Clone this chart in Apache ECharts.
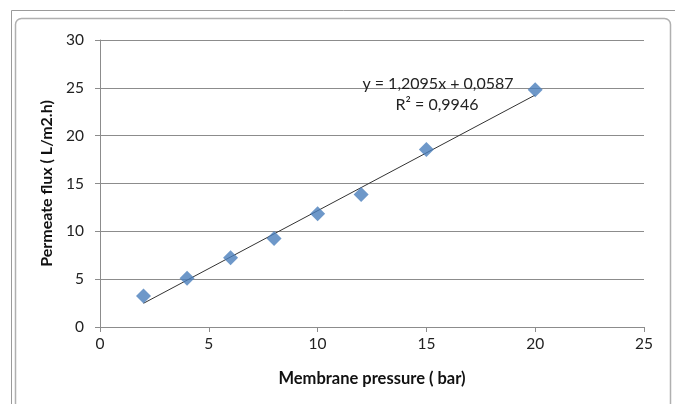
<!DOCTYPE html>
<html>
<head>
<meta charset="utf-8">
<script src="https://cdn.jsdelivr.net/npm/echarts@6/dist/echarts.min.js"></script>
<style>
html,body{margin:0;padding:0;background:#fff;}
#c{width:675px;height:404px;}
</style>
</head>
<body>
<div id="c"></div>
<script>
const pressure = [2, 4, 6, 8, 10, 12, 15, 20];
const flux = [3.25, 5.1, 7.25, 9.25, 11.85, 13.85, 18.55, 24.8];
const trendSlope = 1.2095;
const trendIntercept = 0.0587;
const trendRange = [2, 20];
const trendLabel = ['y = 1,2095x + 0,0587', 'R² = 0,9946'];
const xTitle = 'Membrane pressure ( bar)';
const yTitle = 'Permeate flux ( L/m2.h)';

const chart = echarts.init(document.getElementById('c'), null, {renderer: 'canvas'});
const FONT = 'Lato, "Open Sans", sans-serif';
const trendData = trendRange.map(x => [x, trendSlope * x + trendIntercept]);

chart.setOption({
  animation: false,
  backgroundColor: '#fff',
  grid: {left: 100, right: 31, top: 40, bottom: 77},
  xAxis: {
    type: 'value', min: 0, max: 25, interval: 5,
    name: xTitle, nameLocation: 'middle', nameGap: 43,
    nameTextStyle: {fontFamily: FONT, fontSize: 16.5, fontWeight: 'bold', color: '#111'},
    axisLine: {show: true, lineStyle: {color: '#8c8c8c', width: 1}},
    axisTick: {show: true, length: 5, lineStyle: {color: '#8c8c8c'}},
    axisLabel: {fontFamily: FONT, fontSize: 15.5, color: '#222', margin: 9},
    splitLine: {show: false}
  },
  yAxis: {
    type: 'value', min: 0, max: 30, interval: 5,
    name: yTitle, nameLocation: 'middle', nameGap: 43, nameRotate: 90,
    nameTextStyle: {fontFamily: FONT, fontSize: 16, fontWeight: 'bold', color: '#111'},
    axisLine: {show: true, lineStyle: {color: '#8c8c8c', width: 1}},
    axisTick: {show: true, length: 5, lineStyle: {color: '#8c8c8c'}},
    axisLabel: {fontFamily: FONT, fontSize: 15.5, color: '#222', margin: 16},
    splitLine: {show: true, lineStyle: {color: '#8c8c8c', width: 1}}
  },
  series: [
    {
      type: 'line', data: trendData, showSymbol: false, symbol: 'none',
      lineStyle: {color: '#333', width: 1}, silent: true, z: 3
    },
    {
      type: 'scatter', data: pressure.map((x, i) => [x, flux[i]]),
      symbol: 'diamond', symbolSize: 15,
      itemStyle: {color: '#4a7ebb'}, z: 4
    }
  ],
  graphic: [
    {type: 'rect', shape: {x: 11.5, y: 10.5, width: 700, height: 420}, style: {fill: 'none', stroke: '#9a9a9a', lineWidth: 1}, silent: true, z: 0},
    {type: 'rect', shape: {x: 15.5, y: 18.5, width: 655, height: 420, r: 6}, style: {fill: 'none', stroke: '#b0b0b0', lineWidth: 1.5}, silent: true, z: 0},
    {type: 'text', x: 438, y: 84, style: {text: trendLabel[0], fontFamily: FONT, fontSize: 16, fill: '#222', align: 'center', verticalAlign: 'middle'}, z: 10},
    {type: 'text', x: 437, y: 105, style: {text: trendLabel[1], fontFamily: FONT, fontSize: 16, fill: '#222', align: 'center', verticalAlign: 'middle'}, z: 10}
  ]
});
</script>
</body>
</html>
